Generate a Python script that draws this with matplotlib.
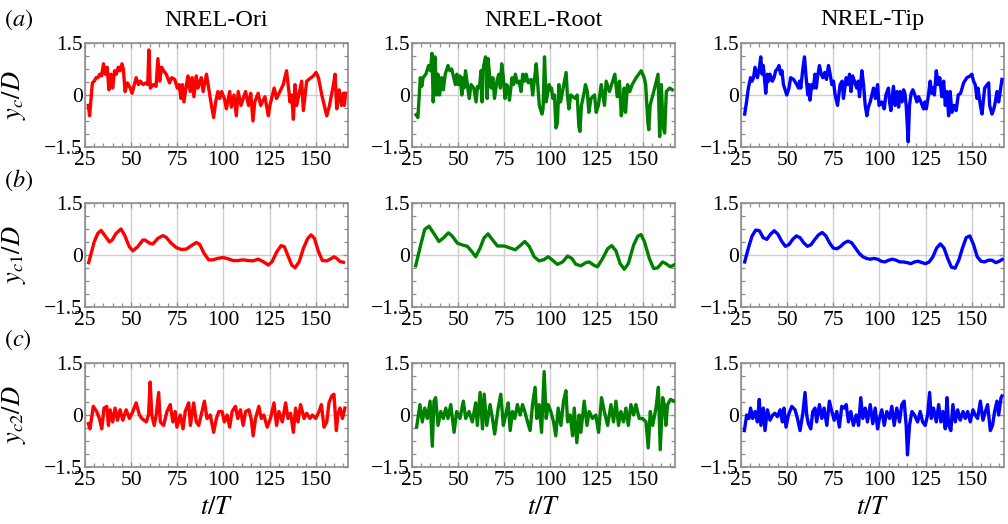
import matplotlib
matplotlib.use("Agg")
import matplotlib.pyplot as plt
from matplotlib.ticker import MultipleLocator, FixedLocator

plt.rcParams['font.family'] = ['Liberation Serif', 'DejaVu Serif']
plt.rcParams['mathtext.fontset'] = 'stix'

# ---------------------------------------------------------------- data
columns = ["NREL-Ori", "NREL-Root", "NREL-Tip"]
row_tags = ["(a)", "(b)", "(c)"]
row_labels = [r"$y_c/D$", r"$y_{c1}/D$", r"$y_{c2}/D$"]
colors = ["#ff0000", "#008000", "#0000ff"]
x_ticks = [25, 50, 75, 100, 125, 150]
x_ticklabels = ["25", "50", "75", "100", "125", "150"]
y_ticks = [-1.5, 0, 1.5]
y_ticklabels = ["\u22121.5", "0", "1.5"]

# (a) wake centre y_c/D
t_a_ori = [26.8, 27.5, 29.0, 30.0, 31.0, 32.0, 33.0, 34.0, 35.0, 36.0,
           37.0, 38.0, 39.0, 40.0, 41.0, 42.0, 43.0, 44.0, 45.0, 45.8,
           46.7, 48.0, 49.5, 50.5, 52.7, 54.0, 55.0, 56.5, 58.0, 59.0,
           59.6, 60.4, 62.0, 63.5, 64.5, 65.5, 66.5, 67.6, 69.0, 70.8,
           72.0, 73.6, 75.0, 76.0, 77.0, 77.8, 78.6, 80.0, 80.8, 82.0,
           83.0, 84.0, 85.3, 86.2, 88.0, 89.0, 90.8, 92.0, 93.5, 94.7,
           95.8, 97.0, 98.0, 99.0, 100.5, 101.6, 103.4, 104.3, 105.7, 107.0,
           108.0, 109.5, 111.0, 112.0, 113.6, 114.8, 116.0, 117.0, 118.8, 120.2,
           122.5, 124.3, 125.2, 127.5, 128.8, 129.7, 132.4, 134.2, 135.5, 136.0,
           137.0, 137.9, 138.8, 139.7, 142.4, 143.3, 145.1, 148.7, 150.2, 151.5,
           153.3, 154.2, 156.0, 157.5, 159.6, 160.5, 161.4, 162.7, 164.0, 165.0,
           165.5, 166.2]
y_a_ori = [-0.3, -0.6, 0.35, 0.4, 0.5, 0.5, 0.6, 0.55, 0.9, 0.6,
           0.8, 0.15, 0.6, 0.2, 0.7, 0.6, 0.8, 0.7, 0.9, 0.75,
           0.1, 0.35, 0.2, 0.05, 0.5, 0.3, 0.4, 0.3, 0.35, 0.3,
           1.3, 0.2, 0.3, 0.25, 1.05, 0.4, 0.8, 0.7, 0.6, 0.35,
           0.5, 0.45, 0.2, 0.3, -0.1, 0.3, -0.2, 0.3, 0.55, 0.1,
           0.5, -0.05, 0.55, 0.2, 0.5, 0.1, 0.6, 0.2, -0.3, -0.65,
           -0.2, 0.1, -0.1, 0.1, -0.1, -0.4, 0.1, -0.35, 0.0, -0.6,
           0.1, -0.3, -0.05, 0.1, -0.3, 0.05, -0.75, -0.2, 0.05, -0.3,
           -0.05, -0.6, -0.3, 0.2, -0.1, 0.0, 0.3, 0.7, 0.1, -0.2,
           0.0, -0.7, 0.3, -0.3, 0.4, -0.45, 0.4, 0.55, 0.65, 0.5,
           0.0, -0.2, -0.6, -0.3, 0.3, 0.6, -0.4, 0.15, -0.3, 0.05,
           -0.3, 0.05]

t_a_root = [27.2, 28.2, 29.5, 30.3, 31.0, 32.5, 34.0, 35.0, 35.8, 36.5,
            37.5, 38.3, 39.0, 40.0, 41.0, 42.0, 43.0, 44.5, 45.5, 46.5,
            48.5, 49.3, 50.0, 51.0, 52.0, 52.8, 53.2, 54.0, 55.0, 56.0,
            57.0, 58.5, 59.7, 60.5, 61.5, 62.4, 63.0, 63.7, 64.8, 65.4,
            65.7, 66.2, 67.0, 67.8, 68.8, 69.7, 71.0, 72.0, 72.9, 73.6,
            74.5, 75.4, 76.3, 77.0, 77.8, 79.2, 80.0, 81.0, 82.0, 83.0,
            84.1, 85.0, 86.0, 86.8, 88.0, 89.5, 90.4, 92.3, 92.9, 93.4,
            94.0, 95.4, 96.0, 96.8, 97.7, 99.3, 100.0, 100.6, 101.3, 102.2,
            103.0, 103.8, 104.6, 105.5, 108.5, 109.2, 110.0, 111.0, 112.2, 113.5,
            114.5, 115.4, 116.0, 116.8, 118.0, 119.0, 120.0, 120.8, 122.0, 123.9,
            124.8, 126.0, 127.5, 129.3, 130.2, 132.0, 134.9, 135.5, 136.2, 137.4,
            138.4, 139.2, 140.0, 140.7, 141.8, 143.0, 144.3, 146.5, 149.2, 150.0,
            150.8, 151.6, 152.8, 153.3, 154.0, 156.0, 158.3, 159.2, 160.1, 161.0,
            161.9, 162.8, 164.6, 166.0]
y_a_root = [-0.57, -0.65, 0.5, 0.25, 0.5, 0.6, 0.85, 0.7, 1.2, -0.2,
            1.1, 0.0, 0.6, 0.0, 0.5, 0.15, 0.6, 0.85, 0.7, 0.75,
            0.3, 0.6, 0.3, 0.55, 0.0, 0.5, 0.2, 0.7, 0.3, -0.1,
            0.3, 0.2, -0.2, 0.25, 0.2, 0.7, -0.2, 0.8, 1.1, 0.95,
            -0.1, 1.05, 0.6, 0.2, 0.5, -0.1, 0.4, 0.6, 0.2, 0.9,
            0.5, -0.1, 0.3, 0.2, -0.15, 0.5, 0.3, 0.6, 0.35, 0.4,
            0.1, 0.6, 0.4, 0.6, 0.35, 0.45, 0.0, 0.9, 0.5, 0.1,
            -0.3, -0.55, -0.4, 1.1, -0.2, 0.3, 0.15, 0.2, -0.1, 0.0,
            -0.95, -0.8, 0.3, -0.2, 0.65, 0.0, -0.4, 0.0, -0.05, -0.1,
            0.0, -0.9, -1.05, -0.3, 0.0, 0.3, 0.1, -0.5, -0.1, 0.0,
            -0.5, -0.3, 0.3, -0.3, 0.4, 0.1, 0.6, 0.3, -0.05, 0.4,
            -0.6, -0.3, 0.2, -0.5, 0.3, 0.1, 0.3, 0.5, 0.7, 0.6,
            0.5, 0.3, -0.8, -1.0, -0.3, 0.1, 0.6, -1.2, 0.3, -0.9,
            -1.1, 0.1, 0.2, 0.15]

t_a_tip = [27.0, 28.0, 29.0, 30.2, 31.0, 31.8, 32.6, 33.9, 35.0, 35.7,
           36.4, 37.1, 38.4, 39.3, 40.0, 40.7, 42.0, 42.9, 43.8, 44.7,
           45.6, 46.5, 47.2, 48.0, 49.8, 51.0, 51.9, 53.5, 55.2, 56.2,
           56.7, 57.4, 58.5, 59.4, 60.3, 61.2, 61.8, 62.4, 63.3, 64.2,
           65.1, 65.8, 66.4, 67.5, 68.5, 69.3, 70.4, 71.3, 72.4, 73.3,
           74.2, 75.1, 76.0, 77.3, 78.7, 79.8, 80.5, 82.0, 82.9, 83.8,
           84.6, 85.5, 87.7, 88.5, 89.2, 90.5, 91.4, 92.3, 93.2, 94.0,
           95.0, 96.8, 97.8, 99.0, 99.8, 101.3, 102.6, 103.5, 104.9, 105.5,
           106.2, 106.9, 107.6, 108.5, 109.5, 110.4, 111.2, 112.2, 113.1, 113.8,
           114.5, 115.6, 116.3, 117.2, 118.1, 119.2, 120.3, 121.2, 122.1, 123.9,
           124.6, 125.4, 126.6, 127.5, 128.3, 129.0, 129.8, 130.8, 131.8, 132.7,
           133.8, 134.8, 135.7, 136.6, 137.5, 138.3, 139.3, 140.4, 141.6, 142.7,
           144.0, 145.6, 147.4, 149.2, 150.1, 151.0, 151.9, 152.9, 153.4, 154.7,
           155.6, 157.0, 159.2, 159.7, 161.0, 162.0, 162.8, 163.7, 164.6, 166.4]
y_a_tip = [-0.55, -0.2, 0.2, 0.5, 0.4, 0.5, 0.8, 0.5, 0.8, 1.1,
           0.6, 0.85, 0.05, 0.6, 0.4, 0.6, 0.4, 0.5, 0.7, 0.75,
           0.85, 0.6, 0.7, 0.3, 0.0, 0.2, 0.5, 0.45, 0.3, 0.2,
           0.4, 0.2, 0.75, 1.1, 0.5, 0.0, 0.3, -0.15, 0.3, 0.2,
           0.6, 0.2, 0.5, 0.85, 0.6, 0.5, 0.65, 0.45, 0.85, 0.6,
           0.3, 0.4, 0.0, -0.3, 0.3, 0.4, -0.1, 0.5, 0.3, 0.6,
           0.1, 0.55, 0.2, 0.4, -0.05, 0.7, 0.3, -0.3, -0.6, -0.35,
           -0.2, 0.2, -0.1, 0.3, -0.3, -0.2, -0.4, 0.0, 0.2, -0.2,
           -0.45, -0.1, 0.25, -0.3, 0.1, -0.35, 0.1, -0.2, 0.15, 0.05,
           -0.3, -1.35, -0.3, 0.05, 0.15, 0.0, -0.2, -0.05, -0.15, -0.4,
           -0.2, -0.4, 0.0, 0.4, 0.05, 0.2, 0.0, 0.7, 0.3, 0.5,
           -0.05, 0.4, -0.3, 0.1, -0.6, 0.1, -0.5, -0.3, -0.45, 0.0,
           0.05, 0.35, 0.5, 0.55, 0.6, 0.4, 0.3, -0.1, 0.2, -0.3,
           -0.55, 0.2, 0.35, -0.3, -0.55, -0.4, -0.2, 0.1, -0.2, 0.45]

# (b) low-frequency component y_c1/D
t_b_ori = [27.0, 30.0, 31.9, 33.7, 35.5, 38.2, 39.7, 41.8, 44.5, 46.4,
           49.0, 50.9, 53.6, 56.3, 57.6, 60.0, 61.8, 64.5, 67.2, 69.0,
           71.7, 74.5, 77.2, 79.9, 82.6, 85.3, 87.1, 89.5, 92.0, 94.4,
           96.7, 99.8, 102.5, 105.2, 107.9, 110.6, 113.3, 116.1, 118.8, 121.5,
           124.3, 126.4, 128.8, 131.2, 133.0, 134.8, 137.0, 138.8, 141.1, 143.3,
           145.7, 147.5, 149.3, 151.5, 153.6, 156.0, 157.8, 160.0, 161.4, 163.2,
           165.0]
y_b_ori = [-0.22, 0.38, 0.62, 0.71, 0.58, 0.38, 0.43, 0.62, 0.75, 0.58,
           0.24, 0.12, 0.24, 0.43, 0.43, 0.34, 0.32, 0.48, 0.56, 0.51,
           0.34, 0.21, 0.16, 0.17, 0.27, 0.36, 0.31, 0.05, -0.14, -0.14,
           -0.10, -0.07, -0.11, -0.16, -0.16, -0.14, -0.16, -0.17, -0.12, -0.19,
           -0.29, -0.19, 0.08, 0.27, 0.24, 0.0, -0.29, -0.37, -0.19, 0.19,
           0.48, 0.58, 0.48, 0.10, -0.16, -0.17, -0.12, -0.05, -0.10, -0.19,
           -0.21]

t_b_root = [27.0, 29.7, 31.9, 34.2, 36.6, 39.6, 42.0, 44.7, 46.9, 49.6,
            52.3, 55.0, 57.7, 59.5, 61.9, 64.0, 66.2, 68.6, 71.3, 74.9,
            78.2, 80.9, 83.6, 86.1, 88.5, 91.2, 93.9, 96.6, 98.8, 101.1,
            103.8, 106.6, 109.3, 111.6, 113.8, 116.5, 119.2, 121.0, 123.4, 125.5,
            128.3, 131.0, 133.2, 135.5, 137.8, 140.0, 142.2, 145.1, 147.3, 149.1,
            150.9, 153.6, 155.9, 158.1, 160.8, 162.6, 165.0, 166.8]
y_b_root = [-0.31, 0.29, 0.74, 0.83, 0.64, 0.39, 0.49, 0.64, 0.54, 0.34,
            0.29, 0.25, 0.08, -0.05, 0.20, 0.49, 0.61, 0.44, 0.26, 0.26,
            0.20, 0.15, 0.27, 0.39, 0.25, -0.05, -0.17, -0.13, -0.05, -0.15,
            -0.27, -0.20, -0.03, -0.10, -0.27, -0.31, -0.22, -0.20, -0.29, -0.34,
            -0.10, 0.18, 0.27, 0.12, -0.25, -0.41, -0.25, 0.29, 0.54, 0.59,
            0.39, -0.10, -0.39, -0.37, -0.20, -0.25, -0.34, -0.29]

t_b_tip = [27.0, 29.0, 31.0, 33.0, 35.0, 37.0, 39.0, 41.0, 43.0, 45.0,
           47.0, 49.0, 51.0, 53.0, 55.0, 57.0, 59.0, 61.0, 63.0, 65.0,
           67.0, 69.0, 71.0, 73.0, 75.0, 77.0, 79.0, 81.0, 83.0, 85.0,
           87.0, 89.0, 91.0, 93.0, 95.0, 97.0, 99.0, 101.0, 103.0, 105.0,
           107.0, 109.0, 111.0, 113.0, 115.0, 117.0, 119.0, 121.0, 123.0, 125.0,
           127.0, 129.0, 131.0, 133.0, 135.0, 137.0, 139.0, 141.0, 143.0, 145.0,
           147.0, 149.0, 151.0, 153.0, 155.0, 157.0, 159.0, 161.0, 163.0, 165.0,
           166.5]
y_b_tip = [-0.2, 0.2, 0.55, 0.72, 0.7, 0.5, 0.45, 0.6, 0.7, 0.6,
           0.4, 0.25, 0.3, 0.45, 0.55, 0.5, 0.35, 0.25, 0.3, 0.45,
           0.58, 0.65, 0.55, 0.35, 0.2, 0.18, 0.25, 0.35, 0.4, 0.35,
           0.2, 0.05, -0.05, -0.1, -0.12, -0.1, -0.12, -0.18, -0.2, -0.15,
           -0.12, -0.15, -0.2, -0.2, -0.22, -0.25, -0.2, -0.18, -0.22, -0.25,
           -0.2, -0.05, 0.2, 0.32, 0.2, -0.1, -0.35, -0.38, -0.15, 0.2,
           0.5, 0.55, 0.3, -0.05, -0.18, -0.2, -0.15, -0.15, -0.22, -0.18,
           -0.13]

# (c) high-frequency component y_c2/D
t_c_ori = [26.8, 27.7, 29.5, 31.3, 32.8, 34.1, 35.3, 36.8, 37.7, 38.6,
           40.0, 41.3, 42.6, 44.0, 45.5, 47.3, 49.1, 50.9, 52.7, 54.5,
           55.8, 58.2, 59.4, 60.3, 61.2, 62.5, 63.6, 64.9, 65.8, 67.6,
           69.4, 71.2, 72.6, 73.9, 74.8, 76.6, 78.1, 79.3, 81.2, 82.1,
           83.9, 85.3, 86.6, 88.4, 89.7, 91.1, 92.9, 94.7, 96.2, 97.5,
           99.3, 100.5, 102.0, 103.4, 104.7, 106.5, 107.8, 109.2, 110.7, 112.0,
           113.8, 115.0, 116.1, 117.4, 119.2, 120.5, 121.9, 123.7, 125.5, 127.4,
           128.8, 130.1, 131.9, 133.7, 135.0, 136.4, 137.9, 139.1, 140.4, 141.8,
           143.7, 145.1, 146.9, 148.2, 150.0, 151.8, 153.1, 154.5, 156.0, 157.2,
           158.7, 159.9, 161.2, 162.1, 163.2, 164.5, 165.8]
y_c_ori = [-0.25, -0.4, 0.25, 0.1, -0.1, -0.4, 0.2, 0.25, -0.3, 0.15,
           -0.2, 0.2, -0.15, 0.15, -0.15, 0.15, -0.1, 0.1, 0.35, 0.0,
           -0.1, -0.2, 0.0, 0.95, 0.0, -0.3, 0.0, 0.65, -0.2, -0.3,
           0.1, 0.3, -0.2, 0.1, -0.35, 0.0, -0.4, 0.1, 0.35, -0.3,
           0.35, -0.2, -0.3, 0.1, 0.4, -0.1, 0.0, -0.5, -0.1, 0.1,
           0.1, -0.2, 0.0, -0.35, 0.1, 0.25, -0.1, 0.15, -0.3, 0.1,
           0.15, -0.1, -0.6, -0.1, 0.25, -0.1, 0.0, -0.35, -0.1, 0.35,
           -0.3, 0.1, -0.2, 0.35, -0.1, 0.05, -0.5, 0.2, -0.2, 0.3,
           -0.1, 0.05, -0.1, 0.0, -0.1, 0.1, 0.3, -0.35, -0.2, 0.35,
           0.55, 0.6, -0.45, 0.05, 0.2, -0.1, 0.2]

t_c_root = [27.5, 29.3, 30.6, 31.9, 33.3, 34.8, 36.0, 36.9, 37.8, 39.1,
            40.6, 42.0, 43.3, 44.5, 46.0, 47.8, 49.2, 51.0, 52.8, 54.1,
            55.9, 57.7, 59.5, 60.4, 61.9, 63.2, 64.1, 65.5, 67.3, 68.6,
            69.8, 71.7, 73.1, 74.5, 75.8, 77.1, 78.2, 79.4, 80.7, 82.1,
            83.6, 84.9, 86.1, 87.6, 89.0, 90.3, 91.7, 92.6, 93.9, 95.2,
            96.6, 97.7, 98.8, 100.2, 101.7, 102.9, 104.2, 105.7, 107.1, 108.4,
            109.3, 110.7, 112.0, 112.9, 114.3, 115.6, 116.5, 118.3, 119.8, 121.0,
            122.8, 124.6, 126.1, 127.7, 129.2, 131.0, 132.8, 134.2, 135.5, 136.9,
            138.2, 139.6, 140.9, 142.2, 143.6, 145.1, 146.3, 148.1, 149.9, 151.8,
            153.0, 154.1, 155.4, 157.2, 158.5, 159.5, 160.8, 161.7, 162.6, 163.5,
            165.0, 167.1]
y_c_root = [-0.35, 0.3, -0.2, 0.2, -0.1, 0.4, -0.9, 0.4, 0.5, -0.3,
            0.1, -0.1, 0.2, -0.1, 0.3, -0.5, 0.1, -0.1, 0.4, -0.1,
            0.1, -0.2, 0.35, -0.3, 0.65, -0.4, 0.6, -0.3, 0.3, -0.1,
            -0.55, 0.2, 0.6, -0.3, 0.0, 0.35, -0.45, 0.1, -0.1, 0.3,
            0.0, 0.3, 0.1, -0.2, -0.45, 0.3, 0.8, -0.1, 0.3, -0.5,
            1.25, -0.1, 0.3, 0.1, -0.2, -0.6, 0.2, -0.3, 0.4, 0.7,
            -0.2, 0.0, -0.6, 0.2, -0.8, 0.0, -0.5, 0.4, -0.3, 0.1,
            -0.1, 0.0, -0.5, 0.5, 0.1, -0.3, 0.3, -0.2, 0.4, -0.3,
            0.1, -0.2, 0.2, -0.3, 0.3, 0.0, 0.3, -0.1, -0.1, -0.2,
            -0.95, 0.1, -0.3, 0.2, 0.8, -1.0, 0.5, 0.3, -0.3, 0.3,
            0.45, 0.4]

t_c_tip = [26.8, 28.1, 29.3, 30.2, 31.3, 32.6, 33.9, 34.9, 35.8, 37.1,
           38.0, 39.3, 40.7, 42.2, 43.4, 44.7, 46.2, 47.4, 48.3, 49.4,
           50.7, 52.5, 54.3, 55.6, 57.0, 58.5, 59.7, 60.6, 61.5, 62.8,
           63.9, 65.1, 66.0, 67.5, 68.8, 70.0, 71.5, 72.9, 74.2, 75.5,
           76.9, 78.3, 79.6, 80.9, 82.0, 83.2, 84.5, 85.9, 87.4, 88.7,
           89.9, 91.0, 92.3, 93.5, 95.0, 96.4, 97.7, 99.0, 100.0, 101.3,
           102.6, 104.0, 105.5, 106.7, 108.0, 109.4, 110.9, 112.1, 113.4, 114.5,
           115.2, 116.3, 117.6, 119.0, 120.7, 122.1, 123.4, 124.8, 126.1, 127.2,
           128.1, 129.3, 130.8, 132.1, 133.3, 134.4, 135.7, 136.6, 137.5, 138.7,
           139.8, 141.1, 142.4, 143.8, 145.3, 146.5, 147.8, 149.2, 150.7, 151.9,
           153.2, 154.7, 156.1, 157.4, 158.6, 160.1, 161.3, 162.4, 163.7, 164.6,
           165.9, 166.4]
y_c_tip = [-0.45, 0.0, -0.1, 0.2, -0.1, 0.1, -0.2, 0.45, -0.3, 0.2,
           -0.45, 0.15, -0.15, 0.0, 0.05, -0.05, 0.15, -0.2, 0.2, -0.35,
           0.0, 0.25, 0.15, -0.1, -0.45, 0.05, 0.65, 0.0, -0.25, -0.4,
           0.1, 0.2, -0.2, 0.3, -0.1, 0.2, -0.3, 0.4, 0.1, -0.15,
           0.1, -0.35, 0.25, 0.2, 0.3, -0.2, 0.1, -0.3, 0.0, -0.3,
           0.5, -0.1, 0.2, -0.2, 0.3, -0.25, 0.2, -0.4, -0.1, 0.15,
           -0.3, 0.1, -0.1, 0.25, -0.3, 0.2, -0.2, 0.3, 0.4, -0.3,
           -1.15, -0.3, 0.1, 0.0, -0.2, 0.1, -0.2, -0.3, 0.0, 0.65,
           -0.1, 0.2, -0.2, 0.3, -0.2, 0.1, -0.4, 0.5, -0.3, -0.45,
           0.3, -0.2, 0.15, -0.15, 0.1, -0.1, 0.1, -0.2, 0.15, 0.0,
           -0.1, 0.4, -0.15, 0.1, 0.3, -0.45, -0.3, 0.1, 0.4, 0.0,
           0.5, 0.55]

series = [
    [(t_a_ori, y_a_ori), (t_a_root, y_a_root), (t_a_tip, y_a_tip)],
    [(t_b_ori, y_b_ori), (t_b_root, y_b_root), (t_b_tip, y_b_tip)],
    [(t_c_ori, y_c_ori), (t_c_root, y_c_root), (t_c_tip, y_c_tip)],
]

# ---------------------------------------------------------------- layout
W, H = 1008, 524
fig = plt.figure(figsize=(W / 100, H / 100), dpi=100)

col_left = [85, 412, 741]
ax_w = 263
row_top = [43, 203, 363]
ax_h = 104
edge = "#8c8c8c"

for r in range(3):
    for c in range(3):
        ax = fig.add_axes([col_left[c] / W, 1 - (row_top[r] + ax_h) / H,
                           ax_w / W, ax_h / H])
        t, y = series[r][c]
        ax.plot(t, y, color=colors[c], lw=2.4, solid_joinstyle="round",
                zorder=3)
        ax.set_xlim(25, 167.5)
        ax.set_ylim(-1.5, 1.5)
        ax.xaxis.set_major_locator(FixedLocator(x_ticks))
        ax.set_xticklabels(x_ticklabels)
        ax.xaxis.set_minor_locator(MultipleLocator(5))
        ax.yaxis.set_major_locator(FixedLocator(y_ticks))
        ax.set_yticklabels(y_ticklabels)
        ax.yaxis.set_minor_locator(MultipleLocator(0.375))
        ax.grid(True, which="major", color="#cfcfcf", lw=1.0, zorder=0)
        ax.tick_params(which="both", direction="in", top=True, right=True,
                       color=edge, width=0.9, labelsize=15.5)
        ax.tick_params(which="major", length=3.5)
        ax.tick_params(which="minor", length=3)
        ax.tick_params(axis="x", pad=3)
        ax.tick_params(axis="y", pad=1.5)
        for s in ax.spines.values():
            s.set_color(edge)
            s.set_linewidth(1.2)
        if c == 0:
            ax.set_ylabel(row_labels[r], fontsize=19)
            ax.yaxis.set_label_coords(-0.215, 0.5)
        if r == 0:
            fig.text((col_left[c] + ax_w / 2) / W, 1 - 20 / H, columns[c],
                     ha="center", va="center", fontsize=17.5)
        if r == 2:
            fig.text((col_left[c] + ax_w / 2) / W, 1 - 508 / H, r"$t/T$",
                     ha="center", va="center", fontsize=19)

for r, tag in enumerate(row_tags):
    fig.text(4 / W, 1 - (row_top[r] - 23) / H, "$" + tag + "$",
             ha="left", va="center", fontsize=17.5)

fig.savefig("out.png", dpi=100)
